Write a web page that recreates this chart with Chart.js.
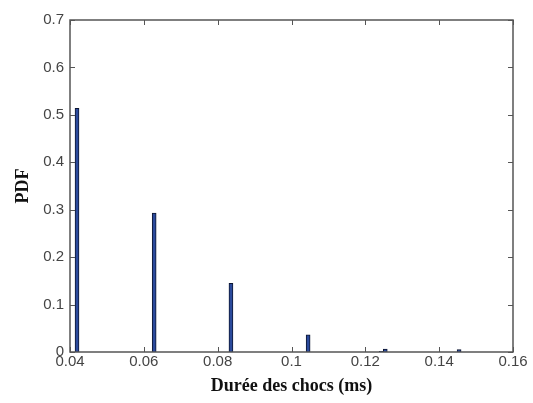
<!DOCTYPE html>
<html>
<head>
<meta charset="utf-8">
<script src="https://cdn.jsdelivr.net/npm/chart.js@4.4.1/dist/chart.umd.min.js"></script>
<style>
  html, body { margin: 0; padding: 0; background: #fff; }
  #wrap { width: 533px; height: 403px; position: relative; }
</style>
</head>
<body>
<div id="wrap"><canvas id="chart"></canvas></div>
<script>
// bin centres (ms) and PDF values
const durations = [0.0419, 0.0628, 0.0836, 0.1045, 0.1243, 0.1254, 0.1454];
const pdfValues = [0.514, 0.293, 0.145, 0.036, 0.0015, 0.006, 0.005];

const xTicks = [0.04, 0.06, 0.08, 0.1, 0.12, 0.14, 0.16];
const yTicks = [0, 0.1, 0.2, 0.3, 0.4, 0.5, 0.6, 0.7];

const axisColor = '#555';
const tickFont = { family: 'Liberation Sans', size: 15 };

// MATLAB style box with inward ticks on all four sides
const boxTicks = {
    id: 'boxTicks',
    afterDraw: function (chart) {
        const ctx = chart.ctx;
        const a = chart.chartArea;
        const len = 5;
        ctx.save();
        ctx.strokeStyle = axisColor;
        ctx.lineWidth = 1.5;
        ctx.strokeRect(a.left, a.top, a.right - a.left, a.bottom - a.top);
        ctx.lineWidth = 1;
        xTicks.forEach(function (v) {
            const px = Math.round(chart.scales.x.getPixelForValue(v)) + 0.5;
            ctx.beginPath();
            ctx.moveTo(px, a.bottom); ctx.lineTo(px, a.bottom - len);
            ctx.moveTo(px, a.top); ctx.lineTo(px, a.top + len);
            ctx.stroke();
        });
        yTicks.forEach(function (v) {
            const py = Math.round(chart.scales.y.getPixelForValue(v)) + 0.5;
            ctx.beginPath();
            ctx.moveTo(a.left, py); ctx.lineTo(a.left + len, py);
            ctx.moveTo(a.right, py); ctx.lineTo(a.right - len, py);
            ctx.stroke();
        });
        ctx.restore();
    }
};

new Chart(document.getElementById('chart'), {
    type: 'bar',
    data: {
        datasets: [{
            data: durations.map(function (d, i) { return { x: d, y: pdfValues[i] }; }),
            backgroundColor: '#2b4a9c',
            borderColor: '#0c1530',
            borderWidth: 1,
            borderSkipped: 'bottom',
            barThickness: 4
        }]
    },
    options: {
        responsive: true,
        maintainAspectRatio: false,
        animation: false,
        layout: { padding: { top: 20, right: 20, left: 13, bottom: 6 } },
        plugins: { legend: { display: false }, tooltip: { enabled: false } },
        scales: {
            x: {
                type: 'linear',
                min: 0.04,
                max: 0.16,
                offset: false,
                grid: { display: false, drawTicks: false },
                border: { display: false },
                afterBuildTicks: function (s) { s.ticks = xTicks.map(function (v) { return { value: v }; }); },
                afterFit: function (s) { s.height = 45; },
                ticks: {
                    font: tickFont,
                    color: '#444',
                    padding: 1,
                    maxRotation: 0,
                    autoSkip: false,
                    callback: function (v) { return String(+v.toFixed(2)); }
                },
                title: {
                    display: true,
                    text: 'Durée des chocs (ms)',
                    font: { family: 'Liberation Serif', size: 18, weight: 'bold' },
                    color: '#111',
                    padding: { top: 2, bottom: 0 }
                }
            },
            y: {
                min: 0,
                max: 0.7,
                grid: { display: false, drawTicks: false },
                border: { display: false },
                afterBuildTicks: function (s) { s.ticks = yTicks.map(function (v) { return { value: v }; }); },
                afterFit: function (s) { s.width = 57; },
                ticks: {
                    font: tickFont,
                    color: '#444',
                    padding: 6,
                    callback: function (v) { return String(+v.toFixed(1)); }
                },
                title: {
                    display: true,
                    text: 'PDF',
                    font: { family: 'Liberation Serif', size: 18, weight: 'bold' },
                    color: '#111',
                    padding: { top: 0, bottom: 2 }
                }
            }
        }
    },
    plugins: [boxTicks]
});
</script>
</body>
</html>
